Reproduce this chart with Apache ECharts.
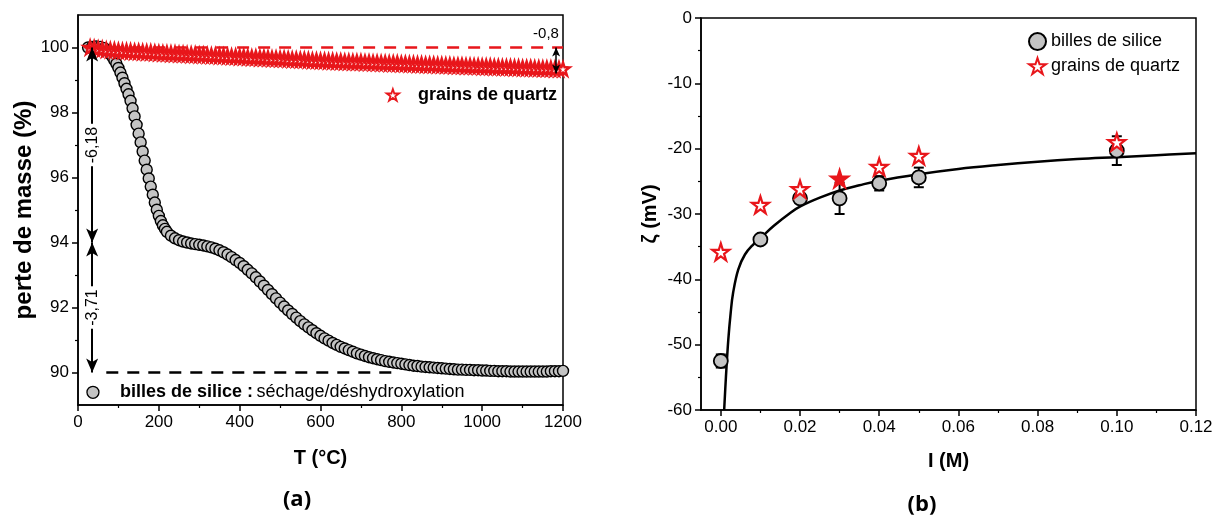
<!DOCTYPE html>
<html>
<head>
<meta charset="UTF-8">
<title>ATG et potentiel zeta</title>
<script src="https://cdn.jsdelivr.net/npm/echarts@6/dist/echarts.min.js"></script>
<style>
    html, body { margin: 0; padding: 0; background: #fff; }
    #main { width: 1217px; height: 518px; }
</style>
</head>
<body>
<div id="main"></div>
<script>
// ---------- (a) ATG : perte de masse ----------
var silicaT = [25, 35, 45, 55, 65, 75, 80, 85, 90, 95, 100, 105, 110, 115, 120, 125, 130, 135, 140, 145,
    150, 155, 160, 165, 170, 175, 180, 185, 190, 195, 200, 205, 210, 215, 220, 230, 240, 250, 260, 270,
    280, 290, 300, 310, 320, 330, 340, 350, 360, 370, 380, 390, 400, 410, 420, 430, 440, 450, 460, 470,
    480, 490, 500, 510, 520, 530, 540, 550, 560, 570, 580, 590, 600, 610, 620, 630, 640, 650, 660, 670,
    680, 690, 700, 710, 720, 730, 740, 750, 760, 770, 780, 790, 800, 810, 820, 830, 840, 850, 860, 870,
    880, 890, 900, 910, 920, 930, 940, 950, 960, 970, 980, 990, 1000, 1010, 1020, 1030, 1040, 1050, 1060, 1070,
    1080, 1090, 1100, 1110, 1120, 1130, 1140, 1150, 1160, 1170, 1180, 1190, 1200];
var silicaMass = [100.00, 100.02, 100.03, 100.02, 99.98, 99.88, 99.80, 99.71, 99.61, 99.50, 99.37, 99.23, 99.07, 98.90, 98.73, 98.56, 98.36, 98.13, 97.88, 97.62,
    97.35, 97.08, 96.80, 96.52, 96.24, 95.97, 95.72, 95.47, 95.23, 95.01, 94.82, 94.66, 94.53, 94.42, 94.33, 94.21, 94.13, 94.07, 94.03, 94.00,
    93.97, 93.95, 93.93, 93.91, 93.88, 93.85, 93.81, 93.76, 93.70, 93.63, 93.55, 93.46, 93.37, 93.27, 93.16, 93.05, 92.93, 92.80, 92.67, 92.54,
    92.41, 92.28, 92.15, 92.03, 91.91, 91.80, 91.69, 91.58, 91.48, 91.39, 91.30, 91.21, 91.13, 91.05, 90.98, 90.91, 90.85, 90.79, 90.74, 90.69,
    90.64, 90.59, 90.55, 90.51, 90.47, 90.44, 90.41, 90.38, 90.35, 90.33, 90.31, 90.29, 90.27, 90.25, 90.23, 90.21, 90.20, 90.18, 90.17, 90.16,
    90.15, 90.14, 90.13, 90.12, 90.11, 90.10, 90.09, 90.09, 90.08, 90.08, 90.07, 90.07, 90.06, 90.06, 90.05, 90.05, 90.04, 90.04, 90.04, 90.03,
    90.03, 90.03, 90.03, 90.03, 90.03, 90.03, 90.03, 90.03, 90.03, 90.04, 90.04, 90.04, 90.05];

var quartzT = [30, 40, 50, 60, 70, 80, 90, 100, 110, 120, 130, 140, 150, 160, 170, 180, 190, 200, 210, 220,
    230, 240, 250, 260, 270, 280, 290, 300, 310, 320, 330, 340, 350, 360, 370, 380, 390, 400, 410, 420,
    430, 440, 450, 460, 470, 480, 490, 500, 510, 520, 530, 540, 550, 560, 570, 580, 590, 600, 610, 620,
    630, 640, 650, 660, 670, 680, 690, 700, 710, 720, 730, 740, 750, 760, 770, 780, 790, 800, 810, 820,
    830, 840, 850, 860, 870, 880, 890, 900, 910, 920, 930, 940, 950, 960, 970, 980, 990, 1000, 1010, 1020,
    1030, 1040, 1050, 1060, 1070, 1080, 1090, 1100, 1110, 1120, 1130, 1140, 1150, 1160, 1170, 1180, 1190, 1200];
var quartzMass = [100.00, 99.98, 99.96, 99.95, 99.93, 99.92, 99.91, 99.90, 99.89, 99.89, 99.88, 99.87, 99.87, 99.86, 99.85, 99.85, 99.84, 99.83, 99.82, 99.82,
    99.81, 99.81, 99.80, 99.80, 99.79, 99.78, 99.78, 99.77, 99.77, 99.76, 99.75, 99.75, 99.74, 99.74, 99.73, 99.72, 99.72, 99.71, 99.71, 99.70,
    99.69, 99.69, 99.68, 99.68, 99.67, 99.66, 99.66, 99.65, 99.65, 99.64, 99.63, 99.63, 99.62, 99.62, 99.61, 99.60, 99.60, 99.59, 99.59, 99.58,
    99.58, 99.57, 99.57, 99.56, 99.56, 99.55, 99.55, 99.55, 99.54, 99.54, 99.53, 99.53, 99.52, 99.52, 99.51, 99.51, 99.51, 99.50, 99.50, 99.49,
    99.49, 99.48, 99.48, 99.47, 99.47, 99.47, 99.46, 99.46, 99.45, 99.45, 99.44, 99.44, 99.44, 99.43, 99.43, 99.42, 99.42, 99.41, 99.41, 99.41,
    99.40, 99.40, 99.39, 99.39, 99.39, 99.38, 99.38, 99.37, 99.37, 99.37, 99.36, 99.36, 99.35, 99.35, 99.35, 99.34, 99.34, 99.34];

var tgaYTicks = [90, 92, 94, 96, 98, 100];
var tgaYMinor = [91, 93, 95, 97, 99];

// ---------- (b) potentiel zeta ----------
var ionicStrength = [0, 0.01, 0.02, 0.03, 0.04, 0.05, 0.10];
var zetaSilica = [-52.5, -33.9, -27.6, -27.6, -25.3, -24.4, -20.3];
var zetaSilicaErr = [1.0, 0.4, 0.6, 2.4, 1.1, 1.5, 2.2];
var zetaQuartz = [-35.8, -28.6, -26.2, -24.6, -22.8, -21.1, -19.0];
var fitI = [0.00085, 0.0013, 0.0019, 0.0025, 0.0031, 0.0044, 0.0061, 0.0083, 0.0098, 0.0134, 0.0176, 0.0202,
    0.025, 0.03, 0.035, 0.04, 0.05, 0.06, 0.07, 0.08, 0.09, 0.10, 0.11, 0.12];
var fitZeta = [-60, -54.9, -49.2, -45.1, -42.1, -38.5, -36.2, -34.6, -33.8, -31.8, -29.8, -28.8,
    -27.5, -26.4, -25.6, -24.9, -23.9, -23.1, -22.5, -22.0, -21.6, -21.3, -21.0, -20.7];
var zetaXTicks = [0, 0.02, 0.04, 0.06, 0.08, 0.10, 0.12];
var zetaXMinor = [0.01, 0.03, 0.05, 0.07, 0.09, 0.11];

var RED = '#e8161b';
var GREY = '#c4c4c4';
var STAR = 'path://M50,2 L61.2,36.3 L97.5,36.3 L68.2,57.6 L79.4,91.9 L50,70.7 L20.6,91.9 L31.8,57.6 L2.5,36.3 L38.8,36.3 Z';
var STAR_PTS = [[50, 2], [61.2, 36.3], [97.5, 36.3], [68.2, 57.6], [79.4, 91.9], [50, 70.7], [20.6, 91.9], [31.8, 57.6], [2.5, 36.3], [38.8, 36.3]];
var FONT = '"Liberation Sans", Arial, sans-serif';

function zip(a, b) {
    return a.map(function (v, i) { return [v, b[i]]; });
}

var chart = echarts.init(document.getElementById('main'));

var tickLabel = { color: '#000', fontSize: 17, fontFamily: FONT };
var axisName = { color: '#000', fontSize: 20, fontWeight: 'bold', fontFamily: FONT };

var option = {
    animation: false,
    backgroundColor: '#fff',
    grid: [
        { left: 78, top: 15, width: 485, height: 390, show: true, borderColor: '#000', borderWidth: 1.5 },
        { left: 701, top: 18, width: 495, height: 392, show: true, borderColor: '#000', borderWidth: 1.5 }
    ],
    xAxis: [
        {   // (a) T
            gridIndex: 0, type: 'value', min: 0, max: 1200, interval: 200, position: 'bottom',
            name: 'T (°C)', nameLocation: 'middle', nameGap: 43, nameTextStyle: axisName,
            axisLine: { show: true, onZero: false, lineStyle: { color: '#000', width: 1.5 } },
            axisTick: { show: true, length: 6, lineStyle: { color: '#000', width: 1.5 } },
            minorTick: { show: true, splitNumber: 2, length: 3, lineStyle: { color: '#000', width: 1.2 } },
            axisLabel: Object.assign({ margin: 9, formatter: function (v) { return String(v); } }, tickLabel),
            splitLine: { show: false }
        },
        {   // (b) I
            gridIndex: 1, type: 'value', min: -0.005, max: 0.12, position: 'bottom',
            name: 'I (M)', nameLocation: 'middle', nameGap: 41, nameTextStyle: axisName,
            axisLine: { show: true, onZero: false, lineStyle: { color: '#000', width: 1.5 } },
            axisTick: { show: true, length: 6, customValues: zetaXTicks, lineStyle: { color: '#000', width: 1.5 } },
            axisLabel: Object.assign({
                margin: 9, customValues: zetaXTicks,
                formatter: function (v) { return v.toFixed(2); }
            }, tickLabel),
            splitLine: { show: false }
        },
        {   // (b) petites graduations
            gridIndex: 1, type: 'value', min: -0.005, max: 0.12, position: 'bottom',
            axisLine: { show: false, onZero: false },
            axisTick: { show: true, length: 3, customValues: zetaXMinor, lineStyle: { color: '#000', width: 1.2 } },
            axisLabel: { show: false },
            splitLine: { show: false }
        }
    ],
    yAxis: [
        {   // (a) masse
            gridIndex: 0, type: 'value', min: 89, max: 101, position: 'left',
            name: 'perte de masse (%)', nameLocation: 'middle', nameGap: 37,
            nameTextStyle: Object.assign({}, axisName, { fontSize: 24 }),
            axisLine: { show: true, onZero: false, lineStyle: { color: '#000', width: 1.5 } },
            axisTick: { show: true, length: 6, customValues: tgaYTicks, lineStyle: { color: '#000', width: 1.5 } },
            axisLabel: Object.assign({ margin: 9, customValues: tgaYTicks }, tickLabel),
            splitLine: { show: false }
        },
        {   // (a) petites graduations
            gridIndex: 0, type: 'value', min: 89, max: 101, position: 'left',
            axisLine: { show: false, onZero: false },
            axisTick: { show: true, length: 3, customValues: tgaYMinor, lineStyle: { color: '#000', width: 1.2 } },
            axisLabel: { show: false },
            splitLine: { show: false }
        },
        {   // (b) zeta
            gridIndex: 1, type: 'value', min: -60, max: 0, interval: 10, position: 'left',
            name: 'ζ (mV)', nameLocation: 'middle', nameGap: 41, nameTextStyle: axisName,
            axisLine: { show: true, onZero: false, lineStyle: { color: '#000', width: 1.5 } },
            axisTick: { show: true, length: 6, lineStyle: { color: '#000', width: 1.5 } },
            minorTick: { show: true, splitNumber: 2, length: 3, lineStyle: { color: '#000', width: 1.2 } },
            axisLabel: Object.assign({ margin: 9 }, tickLabel),
            splitLine: { show: false }
        }
    ],
    legend: {
        data: ['billes de silice', 'grains de quartz'],
        orient: 'vertical', left: 1023, top: 27, itemGap: 6,
        itemWidth: 17, itemHeight: 17, selectedMode: false,
        textStyle: { color: '#000', fontSize: 18, fontFamily: FONT }
    },
    series: [
        {
            name: 'ATG silice', type: 'scatter', xAxisIndex: 0, yAxisIndex: 0,
            data: zip(silicaT, silicaMass), symbol: 'circle', symbolSize: 11, z: 3,
            itemStyle: { color: GREY, borderColor: '#000', borderWidth: 1.4, opacity: 1 },
            markLine: {
                silent: true, animation: false, symbol: 'none',
                label: { show: false },
                data: [
                    [{ coord: [30, 100], lineStyle: { color: RED, width: 2.5, type: [12, 9] } }, { coord: [1200, 100] }],
                    [{ coord: [70, 90], lineStyle: { color: '#000', width: 2.5, type: [12, 9] } }, { coord: [790, 90] }],
                    [{ coord: [35, 100], symbol: 'arrow', symbolSize: [9, 14], lineStyle: { color: '#000', width: 2, type: 'solid' } },
                        { coord: [35, 94], symbol: 'arrow', symbolSize: [9, 14] }],
                    [{ coord: [35, 94], symbol: 'arrow', symbolSize: [9, 14], lineStyle: { color: '#000', width: 2, type: 'solid' } },
                        { coord: [35, 90], symbol: 'arrow', symbolSize: [9, 14] }],
                    [{ coord: [1183, 100], symbol: 'arrow', symbolSize: [6, 9], lineStyle: { color: '#000', width: 1.5, type: 'solid' } },
                        { coord: [1183, 99.2], symbol: 'arrow', symbolSize: [6, 9] }]
                ]
            }
        },
        {
            name: 'ATG quartz', type: 'scatter', xAxisIndex: 0, yAxisIndex: 0,
            data: zip(quartzT, quartzMass), symbol: STAR, symbolSize: 13, z: 4,
            itemStyle: { color: '#fff', borderColor: RED, borderWidth: 2.4, opacity: 1 }
        },
        {
            name: 'erreur', type: 'custom', xAxisIndex: 1, yAxisIndex: 2, z: 2,
            data: ionicStrength.map(function (v, i) { return [v, zetaSilica[i], zetaSilicaErr[i]]; }),
            encode: { x: 0, y: 1 },
            renderItem: function (params, api) {
                var x = api.value(0), y = api.value(1), e = api.value(2);
                var lo = api.coord([x, y - e]), hi = api.coord([x, y + e]);
                var w = 5, st = { stroke: '#000', lineWidth: 2 };
                return {
                    type: 'group', children: [
                        { type: 'line', shape: { x1: lo[0], y1: lo[1], x2: hi[0], y2: hi[1] }, style: st },
                        { type: 'line', shape: { x1: lo[0] - w, y1: lo[1], x2: lo[0] + w, y2: lo[1] }, style: st },
                        { type: 'line', shape: { x1: hi[0] - w, y1: hi[1], x2: hi[0] + w, y2: hi[1] }, style: st }
                    ]
                };
            }
        },
        {
            name: 'ajustement', type: 'line', xAxisIndex: 1, yAxisIndex: 2, z: 3,
            data: zip(fitI, fitZeta), symbol: 'none', smooth: 0.4,
            lineStyle: { color: '#000', width: 2.5 }
        },
        {
            name: 'billes de silice', type: 'scatter', xAxisIndex: 1, yAxisIndex: 2, z: 4,
            data: zip(ionicStrength, zetaSilica), symbol: 'circle', symbolSize: 14,
            itemStyle: { color: GREY, borderColor: '#000', borderWidth: 1.8, opacity: 1 }
        },
        {
            name: 'grains de quartz', type: 'scatter', xAxisIndex: 1, yAxisIndex: 2, z: 5,
            data: ionicStrength.map(function (v, i) {
                var p = { value: [v, zetaQuartz[i]] };
                if (i === 3) p.itemStyle = { color: RED };
                return p;
            }),
            symbol: STAR, symbolSize: 17,
            itemStyle: { color: '#fff', borderColor: RED, borderWidth: 2.2, opacity: 1 }
        }
    ]
};
chart.setOption(option);

// annotations placees en coordonnees de donnees
function px(x, y) { return chart.convertToPixel({ gridIndex: 0 }, [x, y]); }
function starPoints(c, size) {
    return STAR_PTS.map(function (p) {
        return [c[0] + (p[0] - 50) * size / 100, c[1] + (p[1] - 50) * size / 100];
    });
}
var txt = { fill: '#000', fontFamily: FONT };
var pStar = px(779, 98.53), pQuartzTxt = px(841, 98.53);
var pCircle = px(37, 89.39), pSilTxt = px(104, 89.39);
var p08 = px(1158, 100.42), p618 = px(35, 97), p371 = px(35, 92);

chart.setOption({
    graphic: [
        { type: 'polygon', shape: { points: starPoints(pStar, 13) },
            style: { fill: '#fff', stroke: RED, lineWidth: 1.8 }, z: 10 },
        { type: 'text', x: pQuartzTxt[0], y: pQuartzTxt[1], z: 10,
            style: Object.assign({ text: 'grains de quartz', fontSize: 18, fontWeight: 'bold', verticalAlign: 'middle' }, txt) },
        { type: 'circle', shape: { cx: pCircle[0], cy: pCircle[1], r: 6 },
            style: { fill: GREY, stroke: '#000', lineWidth: 1.3 }, z: 10 },
        { type: 'text', x: pSilTxt[0], y: pSilTxt[1], z: 10,
            style: Object.assign({
                text: '{b|billes de silice :} {n|séchage/déshydroxylation}', verticalAlign: 'middle',
                rich: {
                    b: { fontSize: 18, fontWeight: 'bold', fontFamily: FONT, fill: '#000' },
                    n: { fontSize: 18, fontFamily: FONT, fill: '#000' }
                }
            }, txt) },
        { type: 'text', x: p08[0], y: p08[1], z: 10,
            style: Object.assign({ text: '-0,8', fontSize: 15, align: 'center', verticalAlign: 'middle' }, txt) },
        { type: 'text', x: p618[0], y: p618[1], rotation: Math.PI / 2, z: 10,
            style: Object.assign({ text: '-6,18', fontSize: 16, align: 'center', verticalAlign: 'middle',
                backgroundColor: '#fff', padding: [0, 3] }, txt) },
        { type: 'text', x: p371[0], y: p371[1], rotation: Math.PI / 2, z: 10,
            style: Object.assign({ text: '-3,71', fontSize: 16, align: 'center', verticalAlign: 'middle',
                backgroundColor: '#fff', padding: [0, 3] }, txt) },
        { type: 'text', x: 297, y: 500, z: 10,
            style: { text: '(a)', fontSize: 22, fontWeight: 'bold', fontFamily: '"Open Sans", sans-serif',
                fill: '#000', align: 'center', verticalAlign: 'middle' } },
        { type: 'text', x: 922, y: 505, z: 10,
            style: { text: '(b)', fontSize: 22, fontWeight: 'bold', fontFamily: '"Open Sans", sans-serif',
                fill: '#000', align: 'center', verticalAlign: 'middle' } }
    ]
});
</script>
</body>
</html>
